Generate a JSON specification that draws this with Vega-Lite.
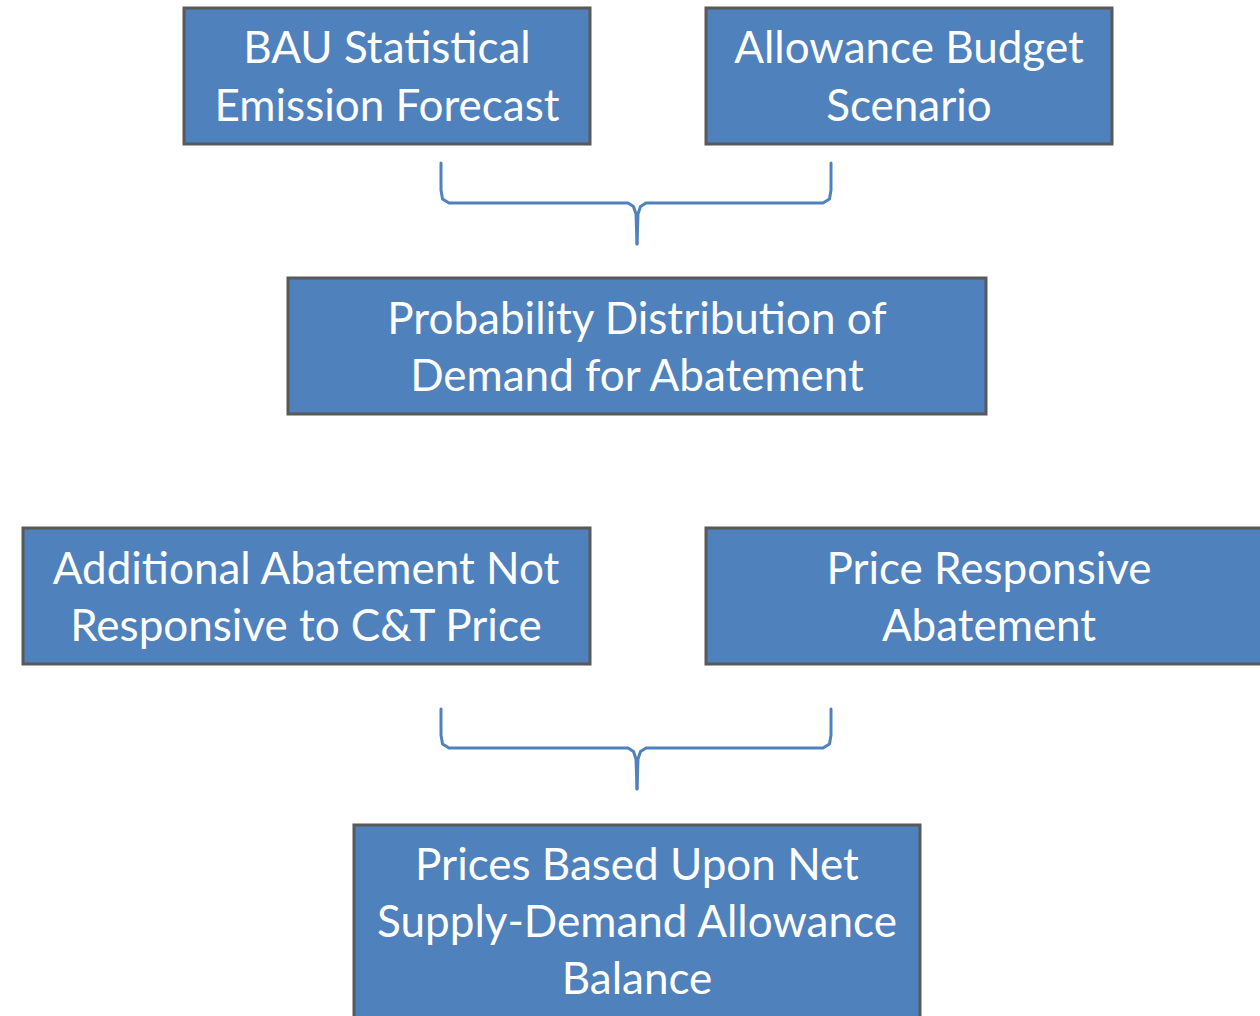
{
  "$schema": "https://vega.github.io/schema/vega-lite/v6.json",
  "width": 1260,
  "height": 1016,
  "padding": 0,
  "autosize": {"type": "fit", "contains": "padding"},
  "background": "white",
  "config": {"view": {"stroke": null}},
  "datasets": {
    "boxes": [
      {"id": "BAU", "x1": 184, "x2": 590, "y1": 8, "y2": 144},
      {"id": "Allowance", "x1": 706, "x2": 1112, "y1": 8, "y2": 144},
      {"id": "Probability", "x1": 288, "x2": 986, "y1": 278, "y2": 414},
      {"id": "Additional", "x1": 23, "x2": 590, "y1": 528, "y2": 664},
      {"id": "PriceResp", "x1": 706, "x2": 1280, "y1": 528, "y2": 664},
      {"id": "Prices", "x1": 354, "x2": 920, "y1": 825, "y2": 1040}
    ],
    "braces": [
      {"path": "b1L", "o": 1, "x": 441, "y": 163},
      {"path": "b1L", "o": 2, "x": 441, "y": 190},
      {"path": "b1L", "o": 3, "x": 442.5, "y": 199},
      {"path": "b1L", "o": 4, "x": 449, "y": 203},
      {"path": "b1L", "o": 5, "x": 628, "y": 203},
      {"path": "b1L", "o": 6, "x": 633.5, "y": 206.5},
      {"path": "b1L", "o": 7, "x": 636, "y": 214},
      {"path": "b1L", "o": 8, "x": 637, "y": 244},
      {"path": "b1R", "o": 1, "x": 831, "y": 163},
      {"path": "b1R", "o": 2, "x": 831, "y": 190},
      {"path": "b1R", "o": 3, "x": 829.5, "y": 199},
      {"path": "b1R", "o": 4, "x": 823, "y": 203},
      {"path": "b1R", "o": 5, "x": 646, "y": 203},
      {"path": "b1R", "o": 6, "x": 640.5, "y": 206.5},
      {"path": "b1R", "o": 7, "x": 638, "y": 214},
      {"path": "b1R", "o": 8, "x": 637, "y": 244},
      {"path": "b2L", "o": 1, "x": 441, "y": 709},
      {"path": "b2L", "o": 2, "x": 441, "y": 735},
      {"path": "b2L", "o": 3, "x": 442.5, "y": 744},
      {"path": "b2L", "o": 4, "x": 449, "y": 748},
      {"path": "b2L", "o": 5, "x": 628, "y": 748},
      {"path": "b2L", "o": 6, "x": 633.5, "y": 751.5},
      {"path": "b2L", "o": 7, "x": 636, "y": 759},
      {"path": "b2L", "o": 8, "x": 637, "y": 789},
      {"path": "b2R", "o": 1, "x": 831, "y": 709},
      {"path": "b2R", "o": 2, "x": 831, "y": 735},
      {"path": "b2R", "o": 3, "x": 829.5, "y": 744},
      {"path": "b2R", "o": 4, "x": 823, "y": 748},
      {"path": "b2R", "o": 5, "x": 646, "y": 748},
      {"path": "b2R", "o": 6, "x": 640.5, "y": 751.5},
      {"path": "b2R", "o": 7, "x": 638, "y": 759},
      {"path": "b2R", "o": 8, "x": 637, "y": 789}
    ],
    "labels": [
      {"t": "BAU Statistical", "x": 387, "y": 63},
      {"t": "Emission Forecast", "x": 387, "y": 121},
      {"t": "Allowance Budget", "x": 909, "y": 63},
      {"t": "Scenario", "x": 909, "y": 121},
      {"t": "Probability Distribution of", "x": 637, "y": 334},
      {"t": "Demand for Abatement", "x": 637, "y": 391},
      {"t": "Additional Abatement Not", "x": 306, "y": 584},
      {"t": "Responsive to C&T Price", "x": 306, "y": 641},
      {"t": "Price Responsive", "x": 989, "y": 584},
      {"t": "Abatement", "x": 989, "y": 641},
      {"t": "Prices Based Upon Net", "x": 637, "y": 880},
      {"t": "Supply-Demand Allowance", "x": 637, "y": 937},
      {"t": "Balance", "x": 637, "y": 994}
    ]
  },
  "layer": [
    {
      "data": {"name": "boxes"},
      "mark": {"type": "rect", "fill": "#4F81BD", "stroke": "#595959", "strokeWidth": 3, "clip": true},
      "encoding": {
        "x": {"field": "x1", "type": "quantitative", "scale": {"domain": [0, 1260], "nice": false, "zero": false}, "axis": null},
        "x2": {"field": "x2"},
        "y": {"field": "y1", "type": "quantitative", "scale": {"domain": [0, 1016], "nice": false, "zero": false, "reverse": true}, "axis": null},
        "y2": {"field": "y2"}
      }
    },
    {
      "data": {"name": "braces"},
      "mark": {"type": "line", "color": "#4F81BD", "strokeWidth": 3, "strokeCap": "round", "strokeJoin": "round"},
      "encoding": {
        "x": {"field": "x", "type": "quantitative", "axis": null},
        "y": {"field": "y", "type": "quantitative", "axis": null},
        "detail": {"field": "path"},
        "order": {"field": "o", "type": "quantitative"}
      }
    },
    {
      "data": {"name": "labels"},
      "mark": {"type": "text", "color": "white", "font": "Lato", "fontSize": 44, "align": "center", "baseline": "alphabetic"},
      "encoding": {
        "x": {"field": "x", "type": "quantitative", "axis": null},
        "y": {"field": "y", "type": "quantitative", "axis": null},
        "text": {"field": "t"}
      }
    }
  ]
}
